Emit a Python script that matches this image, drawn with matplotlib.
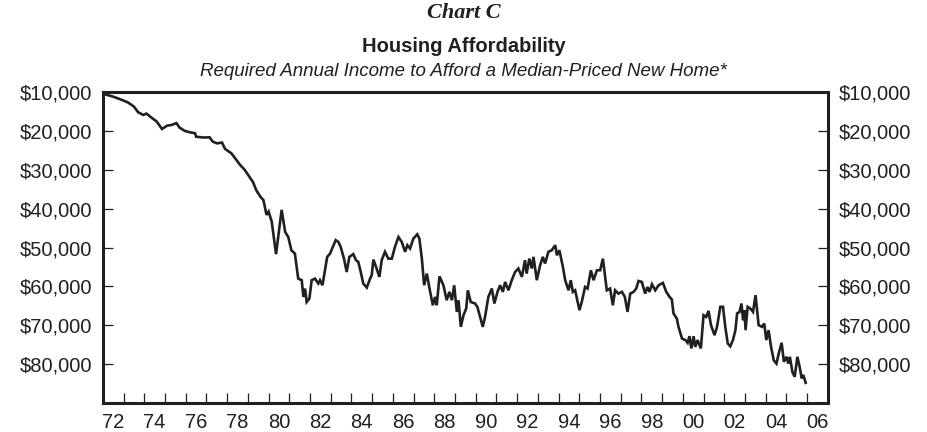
import matplotlib
matplotlib.use("Agg")
import matplotlib.pyplot as plt

# required annual income (year, dollars)
years = [1972.0, 1972.1, 1972.5, 1972.9, 1973.2, 1973.5, 1973.7, 1973.95, 1974.1, 1974.35,
         1974.6, 1974.85, 1975.1, 1975.3, 1975.55, 1975.7, 1975.95, 1976.2, 1976.45, 1976.5,
         1976.85, 1977.15, 1977.3, 1977.5, 1977.75, 1977.9, 1978.2, 1978.45, 1978.6, 1978.85,
         1979.1, 1979.25, 1979.4, 1979.6, 1979.75, 1979.9, 1980.0, 1980.15, 1980.36, 1980.63,
         1980.8, 1980.95, 1981.1, 1981.27, 1981.43, 1981.6, 1981.68, 1981.76, 1981.84, 1981.97,
         1982.08, 1982.24, 1982.4, 1982.48, 1982.6, 1982.72, 1982.83, 1982.97, 1983.1, 1983.24,
         1983.37, 1983.48, 1983.64, 1983.77, 1983.9, 1984.09, 1984.22, 1984.33, 1984.45, 1984.57,
         1984.74, 1984.9, 1984.98, 1985.06, 1985.19, 1985.35, 1985.46, 1985.62, 1985.78, 1985.95,
         1986.1, 1986.27, 1986.43, 1986.59, 1986.7, 1986.83, 1986.99, 1987.18, 1987.28, 1987.4,
         1987.51, 1987.64, 1987.77, 1987.93, 1988.04, 1988.12, 1988.25, 1988.44, 1988.6, 1988.73,
         1988.85, 1988.96, 1989.09, 1989.17, 1989.28, 1989.41, 1989.54, 1989.62, 1989.76, 1989.97,
         1990.08, 1990.21, 1990.34, 1990.45, 1990.61, 1990.78, 1990.9, 1991.05, 1991.18, 1991.31,
         1991.42, 1991.58, 1991.74, 1991.9, 1992.06, 1992.23, 1992.38, 1992.46, 1992.59, 1992.71,
         1992.79, 1992.95, 1993.11, 1993.24, 1993.35, 1993.51, 1993.67, 1993.84, 1993.92, 1994.04,
         1994.21, 1994.32, 1994.48, 1994.59, 1994.69, 1994.8, 1995.01, 1995.12, 1995.28, 1995.4,
         1995.56, 1995.69, 1995.85, 1996.01, 1996.14, 1996.33, 1996.49, 1996.62, 1996.73, 1996.89,
         1997.06, 1997.2, 1997.33, 1997.46, 1997.62, 1997.75, 1997.86, 1998.02, 1998.18, 1998.29,
         1998.39, 1998.51, 1998.67, 1998.83, 1999.04, 1999.2, 1999.36, 1999.47, 1999.55, 1999.71,
         1999.79, 1999.96, 2000.12, 2000.23, 2000.32, 2000.41, 2000.52, 2000.6, 2000.71, 2000.87,
         2001.0, 2001.13, 2001.24, 2001.36, 2001.53, 2001.65, 2001.81, 2001.94, 2002.05, 2002.17,
         2002.29, 2002.42, 2002.54, 2002.62, 2002.74, 2002.83, 2002.91, 2002.97, 2003.03, 2003.13,
         2003.26, 2003.39, 2003.51, 2003.66, 2003.82, 2003.93, 2004.03, 2004.14, 2004.26, 2004.39,
         2004.52, 2004.63, 2004.77, 2004.88, 2005.01, 2005.09, 2005.17, 2005.29, 2005.4, 2005.53,
         2005.64, 2005.74, 2005.82, 2005.93]
income = [10100, 10600, 11200, 12000, 12650, 13750, 15200, 15900, 15550, 16600,
          17600, 19500, 18650, 18500, 18000, 19150, 20000, 20350, 20600, 21500,
          21700, 21650, 22750, 23200, 23000, 24650, 25750, 27500, 28600, 30050,
          32000, 33200, 35200, 36900, 37800, 41600, 40750, 43300, 51700, 40300,
          46000, 47300, 50700, 51550, 58000, 58400, 62700, 60550, 64000, 63100,
          58400, 58000, 59250, 58400, 59700, 55850, 52400, 51550, 49850, 48100,
          48550, 49850, 52850, 56300, 52400, 51700, 53250, 53700, 56300, 59250,
          60300, 58000, 57100, 53100, 55000, 57550, 53250, 51100, 52850, 52850,
          49850, 47300, 48550, 51100, 49400, 50250, 47700, 46600, 47700, 52850,
          59700, 56700, 60550, 64850, 62700, 64850, 57400, 59700, 63550, 61400,
          63550, 59700, 66550, 63550, 70400, 67400, 65700, 61000, 64000, 64400,
          65250, 67850, 70400, 67850, 62700, 60550, 64400, 61400, 59700, 61400,
          58850, 61000, 58400, 56300, 55400, 57550, 53250, 56700, 52850, 55400,
          52400, 58400, 54550, 52400, 54100, 51100, 50700, 49400, 52000, 50700,
          55000, 58400, 61000, 58400, 61400, 61000, 66100, 64000, 60150, 60550,
          55850, 58400, 55850, 55850, 52850, 61000, 60550, 64850, 61000, 61850,
          61400, 62700, 66550, 61850, 61400, 60550, 58600, 58850, 61850, 60150,
          61400, 59450, 61000, 59700, 59100, 61400, 62700, 63350, 66950, 68250,
          70400, 73400, 73800, 74500, 72800, 75950, 72800, 75550, 73800, 75950,
          67400, 67850, 66300, 69950, 72550, 70400, 65250, 65250, 70400, 74700,
          75400, 73800, 71250, 66950, 66550, 64400, 68700, 66100, 71250, 65250,
          65700, 66550, 62250, 69950, 70400, 69550, 73800, 71250, 75550, 79000,
          79850, 77250, 74500, 79400, 78100, 79850, 78100, 82000, 83250, 78100,
          80700, 83650, 82800, 84800]

ytick_vals = [10000, 20000, 30000, 40000, 50000, 60000, 70000, 80000]
ytick_labels = ['$10,000', '$20,000', '$30,000', '$40,000',
                '$50,000', '$60,000', '$70,000', '$80,000']
year_ticks = list(range(1972, 2007))
label_years = list(range(1972, 2007, 2))
label_text = ['72', '74', '76', '78', '80', '82', '84', '86', '88', '90',
              '92', '94', '96', '98', '00', '02', '04', '06']

ink = '#231f20'
plt.rcParams['font.family'] = ['Liberation Sans', 'DejaVu Sans']

fig = plt.figure(figsize=(9.27, 4.32), dpi=100)
ax = fig.add_axes([0.111, 0.067, 0.782, 0.720])

ax.plot(years, income, color=ink, lw=1.9, solid_joinstyle='miter')

ax.set_xlim(1972, 2007)
ax.set_ylim(90000, 10000)

for s in ['left', 'right', 'bottom', 'top']:
    ax.spines[s].set_linewidth(2.2)
    ax.spines[s].set_color(ink)

# y axis, labels on both sides
ax.set_yticks(ytick_vals)
ax.set_yticklabels(ytick_labels)
ax.tick_params(axis='y', direction='in', length=7.5, width=0.9, color=ink,
               left=True, right=True, labelleft=True, labelright=True,
               labelsize=14.5, labelcolor=ink, pad=8)

# x axis: tick every year, labels centred in the year
ax.set_xticks(year_ticks)
ax.set_xticklabels([])
ax.set_xticks([y + 0.5 for y in label_years], minor=True)
ax.set_xticklabels(label_text, minor=True)
ax.tick_params(axis='x', which='major', direction='in', length=7.5, width=0.9,
               color=ink, top=False)
ax.tick_params(axis='x', which='minor', length=0, labelsize=14.5,
               labelcolor=ink, pad=7.5)

fig.text(0.5, 0.969, 'Chart C', ha='center', va='center', fontsize=16,
         family='Liberation Serif', weight='bold', style='italic', color=ink)
fig.text(0.5, 0.893, 'Housing Affordability', ha='center', va='center',
         fontsize=14.5, weight='bold', color=ink)
fig.text(0.5, 0.834, 'Required Annual Income to Afford a Median-Priced New Home*',
         ha='center', va='center', fontsize=13.5, style='italic', color=ink)

fig.savefig('out.png', dpi=100)
